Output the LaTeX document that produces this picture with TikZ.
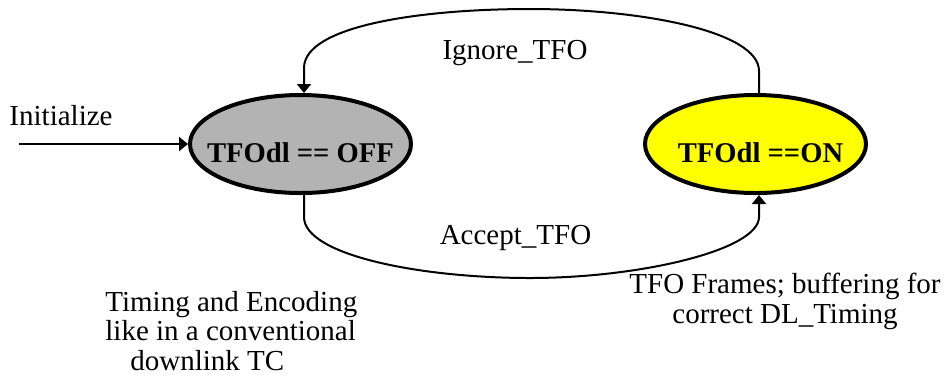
\documentclass[tikz,border=0pt]{standalone}
\usepackage{fontspec}
\setmainfont{Liberation Serif}
\newfontfamily\tnr{Liberation Serif}
\usetikzlibrary{shapes.geometric,arrows.meta,calc}
\definecolor{offgray}{RGB}{179,179,179}
\definecolor{onyellow}{RGB}{255,255,0}
\begin{document}
\begin{tikzpicture}[x=0.5pt,y=-0.5pt,
  every node/.style={font=\tnr\fontsize{14.5}{14.75}\selectfont, inner sep=0pt},
  state/.style={ellipse, draw=black, line width=2pt, minimum width=110.5pt, minimum height=49pt,
    text height=18pt, text depth=0pt, font=\tnr\fontsize{14.3}{16}\selectfont\bfseries},
  trans/.style={line width=1pt, -{Triangle[length=4.5pt,width=7pt]}},
  lbl/.style={anchor=base}
]
\useasboundingbox (0,0) rectangle (946,382);
\node[state, fill=offgray] (off) at (300.5,144) {\makebox[0pt]{TFOdl == OFF}};
\node[state, fill=onyellow] (on) at (755.5,144) {\makebox[0pt]{\hspace{5pt}TFOdl ==ON}};
\coordinate (ttop) at (530,9);
\coordinate (bbot) at (530,278);
\coordinate (init) at (19,144);
\draw[trans] ([xshift=1.75pt]on.north) -- ++(0,-22)
  .. controls +(0,-40) and +(110,0) .. (ttop)
  .. controls +(-110,0) and +(0,-42) .. ($([xshift=1.75pt]off.north)+(0,-25)$)
  -- ([xshift=1.75pt]off.north);
\draw[trans] ([xshift=1.75pt]off.south) -- ++(0,22)
  .. controls +(0,38) and +(-110,0) .. (bbot)
  .. controls +(110,0) and +(0,33) .. ($([xshift=1.75pt]on.south)+(0,22)$)
  -- ([xshift=1.75pt]on.south);
\draw[trans] (init) -- (off.west);
\node[lbl] (initlbl) at (61,125) {Initialize};
\node[lbl] (ign) at (515,59) {Ignore\_TFO};
\node[lbl] (acc) at (515.5,244) {Accept\_TFO};
\node[align=left, anchor=base west] (offnote) at (105,370) {Timing and Encoding\\like in a conventional\\\hspace*{12.5pt}downlink TC};
\node[align=center, anchor=base] (onnote) at (785,323) {TFO Frames; buffering for\\correct DL\_Timing};
\end{tikzpicture}
\end{document}
